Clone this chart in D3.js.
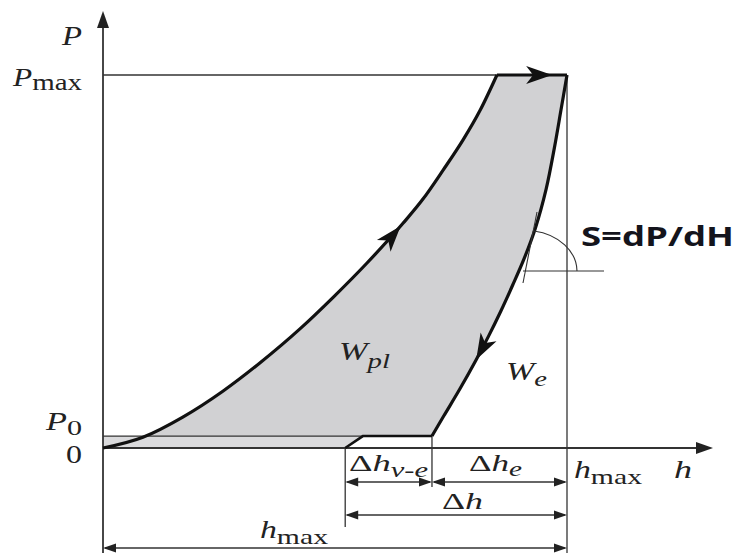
<!DOCTYPE html>
<html lang="en">
<head>
  <meta charset="UTF-8">
  <title>Load-displacement curve</title>
  <script src="https://d3js.org/d3.v7.min.js"></script>
  <style>
    body { margin: 0; background: #fff; }
    text { fill: #222; }
    .serif { font-family: "Liberation Serif", "Times New Roman", serif; }
  </style>
</head>
<body>

<div id="chart"></div>

<script>
  // Loading curve (h in % of hmax, P in % of Pmax)
  const loadH = [0, 8.6, 17.2, 25.9, 33.8, 42.5, 49.6, 56.9, 64.7, 69.0, 73.3, 77.6, 81.3, 84.9];
  const loadP = [0, 2.9, 8.3, 15.3, 22.8, 32.0, 40.4, 49.6, 60.3, 66.8, 74.5, 82.6, 90.6, 100];

  // Unloading curve, from hmax down to P0
  const unloadH = [100, 98.7, 97.3, 95.5, 93.2, 90.8, 88.3, 85.7, 83.1, 80.4, 76.9, 73.4, 70.9];
  const unloadP = [100, 90.6, 80.6, 69.4, 59.0, 50.9, 43.7, 36.6, 30.0, 23.6, 15.8, 8.5, 3.2];

  // Key values
  const hmax = 100, Pmax = 100, P0 = 3.2;
  const hr = 52.2;      // where the short creep step meets h axis
  const hrTop = 56.0;   // top of that step
  const hf = 70.9;      // end of unloading

  // Dimension arrows: [from, to, pixel row]
  const dims = [
    { from: hr, to: hf, row: 482 },
    { from: hf, to: hmax, row: 482 },
    { from: hr, to: hmax, row: 515 },
    { from: 0, to: hmax, row: 548 }
  ];

  const width = 739, height = 553;

  const x = d3.scaleLinear().domain([0, 100]).range([103, 567]);
  const y = d3.scaleLinear().domain([0, 100]).range([448, 75]);

  const svg = d3.select("#chart")
    .append("svg")
    .attr("width", width)
    .attr("height", height);

  const loadPts = loadH.map((h, i) => [x(h), y(loadP[i])]);
  const unloadPts = unloadH.map((h, i) => [x(h), y(unloadP[i])]);

  const loadLine = d3.line().curve(d3.curveMonotoneX);
  const line = d3.line().curve(d3.curveCatmullRom.alpha(0.5));

  // shaded band between 0 and P0
  svg.append("path")
    .attr("d", `M${x(0)},${y(0)} L${x(hr)},${y(0)} L${x(hrTop)},${y(P0)} L${x(0)},${y(P0)} Z`)
    .attr("fill", "#dadadc");

  // main shaded area: loading + hold + unloading, closed along P0
  function dense(d, keep) {
    const t = svg.append("path").attr("d", d).attr("fill", "none");
    const n = t.node(), L = n.getTotalLength(), out = [];
    for (let l = 0; l <= L; l += 2) {
      const p = n.getPointAtLength(l);
      if (!keep || keep(p)) out.push([p.x, p.y]);
    }
    t.remove();
    return out;
  }
  const loadAbove = dense(loadLine(loadPts), p => p.y <= y(P0));
  const unloadDense = dense(line(unloadPts));
  const area = [[loadAbove[0][0], y(P0)]].concat(loadAbove, [[x(hmax), y(Pmax)]], unloadDense, [[x(hf), y(P0)]]);
  svg.append("path")
    .attr("d", "M" + area.map(p => p.join(",")).join("L") + "Z")
    .attr("fill", "#d1d1d3");

  // thin guide lines
  const thin = (x1, y1, x2, y2, w) => svg.append("line")
    .attr("x1", x1).attr("y1", y1).attr("x2", x2).attr("y2", y2)
    .attr("stroke", "#333").attr("stroke-width", w || 1.3);

  thin(x(0), y(Pmax), x(hmax), y(Pmax));          // Pmax line
  thin(x(0), y(P0), x(hrTop), y(P0));              // P0 line
  thin(x(hmax), y(Pmax), x(hmax), height);         // hmax vertical
  thin(x(hr), y(0), x(hr), 527);                   // drop at hr
  thin(x(hf), y(P0), x(hf), 487);                  // drop at hf

  // axes
  thin(x(0), height, x(0), 26, 1.8);
  thin(x(0), y(0), 698, y(0), 1.8);
  svg.append("path").attr("d", `M${x(0)},11 L${x(0) - 6},28 L${x(0) + 6},28 Z`).attr("fill", "#222");
  svg.append("path").attr("d", `M713,${y(0)} L696,${y(0) - 6} L696,${y(0) + 6} Z`).attr("fill", "#222");

  // heavy curves
  const drawHeavy = d => svg.append("path").attr("d", d)
    .attr("stroke", "#111").attr("stroke-width", 3.2).attr("fill", "none");
  const loadPath = drawHeavy(loadLine(loadPts));
  drawHeavy(`M${x(loadH[loadH.length - 1])},${y(Pmax)} L${x(hmax)},${y(Pmax)}`);
  const unloadPath = drawHeavy(line(unloadPts));
  drawHeavy(`M${x(hf)},${y(P0)} L${x(hrTop)},${y(P0)} L${x(hr)},${y(0)}`).attr("stroke-width", 2.6);

  // barbed arrowheads on the curves
  const barb = "M0,0 L-26,-9 L-19,0 L-26,9 Z";
  function arrowOn(pathSel, hAt) {
    const node = pathSel.node();
    const L = node.getTotalLength();
    let best = 0, bd = 1e9;
    for (let l = 0; l <= L; l += 1) {
      const d = Math.abs(node.getPointAtLength(l).x - x(hAt));
      if (d < bd) { bd = d; best = l; }
    }
    const p = node.getPointAtLength(best);
    const q = node.getPointAtLength(Math.min(L, best + 2));
    const ang = Math.atan2(q.y - p.y, q.x - p.x) * 180 / Math.PI;
    svg.append("path").attr("d", barb).attr("fill", "#111")
      .attr("transform", `translate(${p.x},${p.y}) rotate(${ang})`);
  }
  arrowOn(loadPath, 64.2);
  arrowOn(unloadPath, 80.4);
  svg.append("path").attr("d", barb).attr("fill", "#111")
    .attr("transform", `translate(${x(96.8)},${y(Pmax)})`);

  // tangent line, horizontal and angle arc
  thin(523, 283, 537, 212, 1.1);
  thin(523, 271, 604, 271, 1.1);
  svg.append("path")
    .attr("d", "M534,231 A52,41 0 0 1 577,271")
    .attr("fill", "none").attr("stroke", "#333").attr("stroke-width", 1.1);

  // dimension arrows
  const head = "M0,0 L-13,-4.5 L-13,4.5 Z";
  dims.forEach(d => {
    const a = x(d.from), b = x(d.to);
    thin(a + 2, d.row, b - 2, d.row, 1.3);
    svg.append("path").attr("d", head).attr("fill", "#222")
      .attr("transform", `translate(${b},${d.row})`);
    svg.append("path").attr("d", head).attr("fill", "#222")
      .attr("transform", `translate(${a},${d.row}) rotate(180)`);
  });

  // text labels (widths stretched to match the source picture)
  function label(xp, yp, parts, size, w) {
    const t = svg.append("text").attr("class", "serif")
      .attr("x", xp).attr("y", yp).attr("font-size", size);
    parts.forEach(p => {
      const s = t.append("tspan").text(p.t);
      if (p.i) s.attr("font-style", "italic");
      if (p.dy) s.attr("dy", p.dy);
      if (p.fs) s.attr("font-size", p.fs);
    });
    if (w) t.attr("textLength", w).attr("lengthAdjust", "spacingAndGlyphs");
    return t;
  }
  label(62, 45, [{ t: "P", i: 1 }], 27, 20);
  label(13, 86, [{ t: "P", i: 1 }, { t: "max", dy: 4, fs: 24 }], 26, 69);
  label(46, 430, [{ t: "P", i: 1 }, { t: "0", dy: 5, fs: 22 }], 25, 36);
  label(66, 463, [{ t: "0" }], 26, 16);
  label(339, 360, [{ t: "W", i: 1 }, { t: "pl", i: 1, dy: 8, fs: 21 }], 25, 51);
  label(506, 380, [{ t: "W", i: 1 }, { t: "e", i: 1, dy: 6, fs: 21 }], 25, 41);
  label(349, 471, [{ t: "Δ" }, { t: "h", i: 1 }, { t: "v-e", i: 1, dy: 6, fs: 20 }], 24, 79);
  label(469, 471, [{ t: "Δ" }, { t: "h", i: 1 }, { t: "e", i: 1, dy: 5, fs: 20 }], 24, 53);
  label(574, 478, [{ t: "h", i: 1 }, { t: "max", dy: 6, fs: 22 }], 25, 68);
  label(674, 478, [{ t: "h", i: 1 }], 26, 18);
  label(442, 509, [{ t: "Δ" }, { t: "h", i: 1 }], 24, 41);
  label(260, 538, [{ t: "h", i: 1 }, { t: "max", dy: 6, fs: 22 }], 25, 68);

  svg.append("text")
    .attr("x", 581).attr("y", 246)
    .attr("font-family", "'Open Sans', sans-serif")
    .attr("font-weight", 700)
    .attr("font-size", 26)
    .attr("textLength", 153)
    .attr("lengthAdjust", "spacingAndGlyphs")
    .style("fill", "#14141c")
    .text("S=dP/dH");
</script>

</body>
</html>
